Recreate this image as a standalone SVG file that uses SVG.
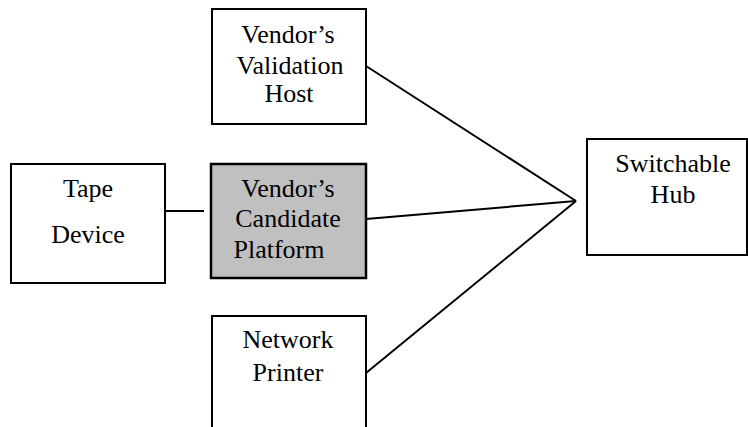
<svg xmlns="http://www.w3.org/2000/svg" width="748" height="427" viewBox="0 0 748 427">
<style>
.box{fill:#fff;stroke:#000;stroke-width:2}
.gray{fill:#c0c0c0;stroke:#000;stroke-width:2.5}
.t{font-family:"Liberation Serif","Times New Roman",serif;font-size:26px;fill:#000;text-anchor:middle}
.c{stroke:#000;stroke-width:2;fill:none}
</style>
<rect width="748" height="427" fill="#fff"/>
<g id="connectors">
<line class="c" x1="366" y1="66" x2="576" y2="201"/>
<line class="c" x1="366" y1="219" x2="576" y2="201"/>
<line class="c" x1="366" y1="373" x2="576" y2="201"/>
<line class="c" x1="165" y1="211" x2="204" y2="211"/>
</g>
<g id="validation-host">
<rect class="box" x="212" y="9" width="154" height="115"/>
<text class="t" x="288" y="43">Vendor’s</text>
<text class="t" x="290" y="74">Validation</text>
<text class="t" x="289" y="102">Host</text>
</g>
<g id="tape-device">
<rect class="box" x="11" y="164" width="154" height="119"/>
<text class="t" x="88" y="197">Tape</text>
<text class="t" x="88" y="243">Device</text>
</g>
<g id="candidate-platform">
<rect class="gray" x="211" y="164" width="155" height="114"/>
<text class="t" x="288" y="197">Vendor’s</text>
<text class="t" x="288" y="227">Candidate</text>
<text class="t" x="279" y="258">Platform</text>
</g>
<g id="network-printer">
<path class="box" d="M212,430 V316 H366 V430"/>
<text class="t" x="288" y="348">Network</text>
<text class="t" x="288" y="381">Printer</text>
</g>
<g id="switchable-hub">
<rect class="box" x="587" y="139" width="160" height="116"/>
<text class="t" x="673" y="172">Switchable</text>
<text class="t" x="673" y="203">Hub</text>
</g>
</svg>
